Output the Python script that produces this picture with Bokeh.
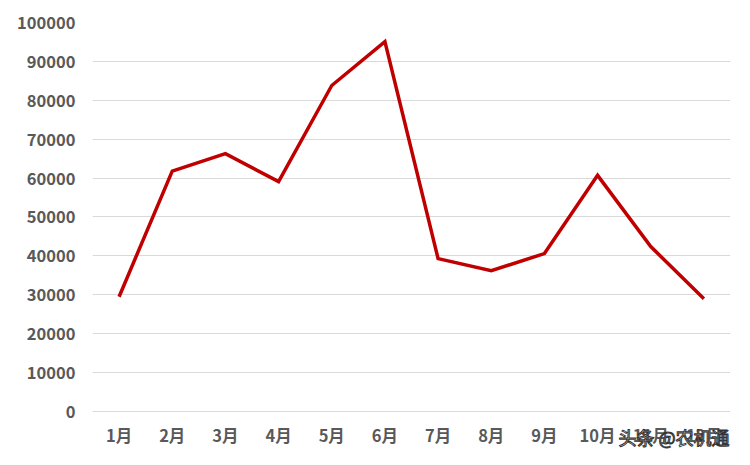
from bokeh.plotting import figure
from bokeh.models import Range1d, FixedTicker, Label, NumeralTickFormatter
from bokeh.embed import file_html
from bokeh.resources import INLINE

months = ["1月", "2月", "3月", "4月", "5月", "6月", "7月", "8月", "9月", "10月", "11月", "12月"]
values = [29500, 61800, 66300, 59100, 83800, 95100, 39300, 36200, 40600, 60700, 42400, 29000]
y_ticks = [0, 10000, 20000, 30000, 40000, 50000, 60000, 70000, 80000, 90000, 100000]

# frame runs to the bottom of the figure so the watermark can sit below the axis
p = figure(x_range=months, y_range=Range1d(-9770, 100000), width=734, height=449,
           output_backend="svg", toolbar_location=None,
           min_border_left=92, min_border_right=4, min_border_top=22, min_border_bottom=0)

p.line(months, values, line_color="#c00000", line_width=3.5, line_join="miter")

p.yaxis.ticker = FixedTicker(ticks=y_ticks)
p.yaxis.formatter = NumeralTickFormatter(format="0")
p.xaxis.fixed_location = 0
for ax in (p.xaxis[0], p.yaxis[0]):
    ax.axis_line_color = None
    ax.major_tick_line_color = None
    ax.minor_tick_line_color = None
    ax.major_tick_out = 0
    ax.major_tick_in = 0
    ax.minor_tick_out = 0
    ax.minor_tick_in = 0
    ax.major_label_text_color = "#595959"
    ax.major_label_text_font = "Noto Sans CJK SC"
    ax.major_label_text_font_style = "bold"
    ax.major_label_text_font_size = "16.5px"
p.yaxis.major_label_standoff = 17
p.xaxis.major_label_standoff = 12

p.xgrid.grid_line_color = None
p.ygrid.grid_line_color = "#d9d9d9"
p.ygrid.grid_line_width = 1.2
p.outline_line_color = None
p.x_range.range_padding = 0

wm = Label(x=526, y=13, x_units="screen", y_units="screen", text="头条 @农机通",
           text_font="Noto Sans CJK SC", text_font_size="18px", text_color="white",
           text_baseline="middle",
           text_outline_color="#333333", level="overlay")
p.add_layout(wm)

open("out.html", "w").write(file_html(p, INLINE))
